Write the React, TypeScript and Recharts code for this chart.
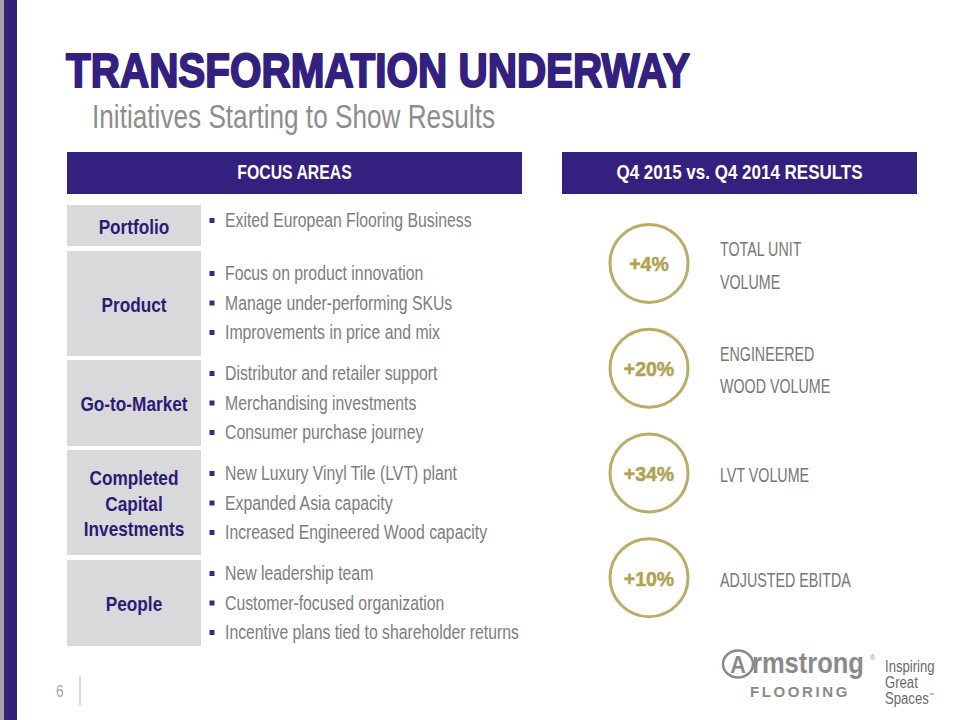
import { Scatter, ScatterChart, XAxis, YAxis } from "recharts";

// Slide content
const focusAreas = ["Portfolio", "Product", "Go-to-Market", "Completed Capital Investments", "People"];
const focusLabelLines = [["Portfolio"], ["Product"], ["Go-to-Market"], ["Completed", "Capital", "Investments"], ["People"]];
const focusBullets = [
  ["Exited European Flooring Business"],
  ["Focus on product innovation", "Manage under-performing SKUs", "Improvements in price and mix"],
  ["Distributor and retailer support", "Merchandising investments", "Consumer purchase journey"],
  ["New Luxury Vinyl Tile (LVT) plant", "Expanded Asia capacity", "Increased Engineered Wood capacity"],
  ["New leadership team", "Customer-focused organization", "Incentive plans tied to shareholder returns"],
];

const resultMetrics = ["TOTAL UNIT VOLUME", "ENGINEERED WOOD VOLUME", "LVT VOLUME", "ADJUSTED EBITDA"];
const resultLabelLines = [["TOTAL UNIT", "VOLUME"], ["ENGINEERED", "WOOD VOLUME"], ["LVT VOLUME"], ["ADJUSTED EBITDA"]];
const resultChanges = [4, 20, 34, 10];

const results = resultMetrics.map((metric, i) => ({
  metric,
  change: resultChanges[i],
  lines: resultLabelLines[i],
}));

// layout of the focus table (px)
const rowTops = [205, 251, 360, 450, 560];
const rowHeights = [41, 105, 86, 105, 86];
const firstBulletY = [227, 280, 380, 480, 580];

const PURPLE = "#33207f";
const LABEL_PURPLE = "#2c1b74";
const GREY_TEXT = "#7d7d7d";
const CELL = "#d9d9db";
const GOLD = "#bbad66";
const GOLD_TEXT = "#b1a252";
const FONT = "'Liberation Sans', Arial, sans-serif";

const Cond = ({ x, y, sx, children, ...rest }: any) => (
  <text transform={`translate(${x} ${y}) scale(${sx} 1)`} fontFamily={FONT} {...rest}>
    {children}
  </text>
);

const ResultMark = (props: any) => {
  const { cx, cy, payload } = props;
  const n = payload.lines.length;
  return (
    <g>
      <circle cx={cx} cy={cy} r={39} fill="#fff" stroke={GOLD} strokeWidth={3} />
      <Cond x={cx} y={cy + 8} sx={0.93} fontSize={21} fontWeight="bold" fill={GOLD_TEXT} stroke={GOLD_TEXT}
        strokeWidth={0.5} textAnchor="middle">
        {`+${payload.change}%`}
      </Cond>
      {payload.lines.map((line: string, i: number) => (
        <Cond key={i} x={cx + 71} y={cy + 9 + (i - (n - 1) / 2) * 32.5} sx={0.68} fontSize={21} fill="#777">
          {line}
        </Cond>
      ))}
    </g>
  );
};

const App = () => {
  return (
    <div style={{ position: "relative", width: 960, height: 720, background: "#fff", overflow: "hidden" }}>
      <style>{"body{margin:0}"}</style>
      <svg width={960} height={720} style={{ position: "absolute", left: 0, top: 0 }}>
        <rect x={0} y={0} width={4} height={720} fill="#a3a3a3" />
        <rect x={4} y={0} width={13} height={720} fill="#32207c" />

        <text x={66} y={87} fontFamily={FONT} fontSize={49} fontWeight="bold" fill={PURPLE} stroke={PURPLE}
          strokeWidth={2} strokeLinejoin="round" textLength={624} lengthAdjust="spacingAndGlyphs">
          TRANSFORMATION UNDERWAY
        </text>
        <text x={92} y={128} fontFamily={FONT} fontSize={33} fill="#8d8d8d" textLength={403} lengthAdjust="spacingAndGlyphs">
          Initiatives Starting to Show Results
        </text>

        <rect x={67} y={152} width={455} height={42} fill={PURPLE} />
        <Cond x={294.5} y={179} sx={0.79} fontSize={20} fontWeight="bold" fill="#fff" textAnchor="middle">FOCUS AREAS</Cond>
        <rect x={562} y={152} width={355} height={42} fill={PURPLE} />
        <Cond x={739.5} y={179} sx={0.85} fontSize={20} fontWeight="bold" fill="#fff" textAnchor="middle">
          Q4 2015 vs. Q4 2014 RESULTS
        </Cond>

        {focusAreas.map((area, r) => {
          const top = rowTops[r];
          const h = rowHeights[r];
          const center = top + h / 2;
          const lines = focusLabelLines[r];
          return (
            <g key={area}>
              <rect x={67} y={top} width={134} height={h} fill={CELL} />
              {lines.map((line, i) => (
                <Cond key={i} x={134} y={center + 8 + (i - (lines.length - 1) / 2) * 25.5} sx={0.82} fontSize={21}
                  fontWeight="bold" fill={LABEL_PURPLE} textAnchor="middle">
                  {line}
                </Cond>
              ))}
              {focusBullets[r].map((b, i) => {
                const by = firstBulletY[r] + i * 29.5;
                return (
                  <g key={i}>
                    <rect x={209.5} y={by - 9} width={5} height={5} fill="#3a2a88" />
                    <Cond x={225} y={by} sx={0.81} fontSize={19.5} fill={GREY_TEXT}>{b}</Cond>
                  </g>
                );
              })}
            </g>
          );
        })}

        {/* footer */}
        <Cond x={56} y={697} sx={0.85} fontSize={16} fill="#a5a5a5">6</Cond>
        <line x1={80} y1={676} x2={80} y2={706} stroke="#b5b5b5" strokeWidth={1} />

        <ellipse cx={738} cy={664} rx={15} ry={13.5} fill="none" stroke="#8a8a8a" strokeWidth={2.5} />
        <Cond x={738} y={673} sx={0.9} fontSize={24} fontWeight="bold" fill="#8a8a8a" textAnchor="middle">A</Cond>
        <Cond x={752} y={673} sx={0.88} fontSize={29} fontWeight="bold" fill="#8a8a8a">rmstrong</Cond>
        <Cond x={870} y={660} sx={1} fontSize={7} fill="#8a8a8a">®</Cond>
        <Cond x={750} y={697} sx={1} fontSize={15} fontWeight="bold" fill="#8a8a8a" letterSpacing={2.6}>FLOORING</Cond>
        <Cond x={885} y={672} sx={0.82} fontSize={16} fill="#6a6a6a">Inspiring</Cond>
        <Cond x={885} y={688} sx={0.82} fontSize={16} fill="#6a6a6a">Great</Cond>
        <Cond x={885} y={704} sx={0.82} fontSize={16} fill="#6a6a6a">
          Spaces<tspan fontSize={6} dy={-7}>™</tspan>
        </Cond>
      </svg>

      <div style={{ position: "absolute", left: 560, top: 200 }}>
        <ScatterChart width={370} height={440} margin={{ top: 11, right: 192, bottom: 10, left: 0 }}>
          <XAxis type="number" dataKey={() => 1} domain={[0, 2]} hide />
          <YAxis type="category" dataKey="metric" hide reversed />
          <Scatter data={results} isAnimationActive={false} shape={(p: any) => <ResultMark {...p} />} />
        </ScatterChart>
      </div>
    </div>
  );
};

export default App;
